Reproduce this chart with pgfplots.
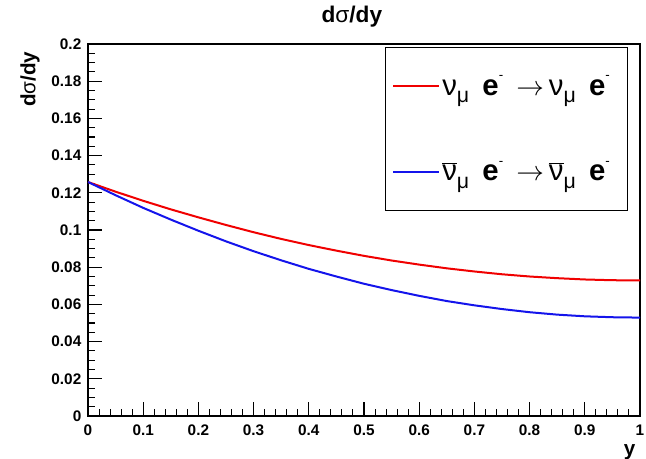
\documentclass[border=0pt]{standalone}
\usepackage{fontspec}
\setmainfont{Liberation Sans}
\usepackage{pgfplots}
\pgfplotsset{compat=1.18}
\definecolor{rootred}{RGB}{240,0,0}
\definecolor{rootblue}{RGB}{20,20,235}
\newcommand{\nuu}{{\mdseries ν}}
\newcommand{\nub}{$\overline{\hbox{\mdseries ν}}$}
\newcommand{\sub}[1]{\raisebox{-0.5ex}{\fontsize{16pt}{16pt}\selectfont\mdseries #1}}
\newcommand{\elec}{\textbf{e}\raisebox{1.0ex}{\fontsize{10pt}{10pt}\selectfont -}}
\newcommand{\gap}{\hspace{0.45em}}
\newcommand{\tail}{\hbox to 6pt{}}
\begin{document}
\begin{tikzpicture}
\useasboundingbox (0,0) rectangle (484.5pt,343.5pt);
\begin{axis}[
  at={(66pt,31.5pt)}, anchor=south west,
  scale only axis, width=414pt, height=279pt,
  xmin=0, xmax=1, ymin=0, ymax=0.2,
  xtick={0,0.1,0.2,0.3,0.4,0.5,0.6,0.7,0.8,0.9,1},
  ytick={0,0.02,0.04,0.06,0.08,0.1,0.12,0.14,0.16,0.18,0.2},
  xticklabels={0,0.1,0.2,0.3,0.4,0.5,0.6,0.7,0.8,0.9,1},
  yticklabels={0,0.02,0.04,0.06,0.08,0.1,0.12,0.14,0.16,0.18,0.2},
  minor x tick num=4, minor y tick num=3,
  xtick pos=left, ytick pos=left, tick align=inside,
  major tick length=10.5pt, minor tick length=5pt,
  tick style={black, line width=0.8pt},
  axis line style={black, line width=0.8pt},
  scaled y ticks=false,
  ticklabel style={font=\fontsize{11.5pt}{13pt}\selectfont\bfseries},
  yticklabel style={xshift=-1.5pt},
  xticklabel style={yshift=-3pt},
  title={\bfseries d{\mdseries σ}/dy},
  title style={at={(axis description cs:0.478,1)}, anchor=base, yshift=10.5pt, font=\fontsize{17pt}{20pt}\selectfont},
  ylabel={\bfseries d{\mdseries σ}/dy},
  ylabel style={at={(axis description cs:-0.105,0.992)}, anchor=east, font=\fontsize{15.5pt}{18pt}\selectfont},
  xlabel={\bfseries y},
  xlabel style={at={(axis description cs:1,-0.105)}, anchor=base east, font=\fontsize{15.5pt}{18pt}\selectfont},
  legend style={at={(axis description cs:0.978,0.992)}, anchor=north east,
    draw=black, line width=1pt, inner xsep=5pt, inner ysep=19pt, row sep=44pt,
    font=\fontsize{22pt}{25pt}\selectfont, cells={anchor=west}},
  legend image code/.code={\draw[#1, line width=1.5pt] (0pt,0pt) -- (34pt,0pt);},
]
\addplot[rootred, line width=1.5pt] coordinates {
(0,0.1258) (0.05,0.1206) (0.1,0.1157) (0.15,0.1111) (0.2,0.1068) (0.25,0.1027)
(0.3,0.0988) (0.35,0.0952) (0.4,0.0919) (0.45,0.0889) (0.5,0.0861) (0.55,0.0836)
(0.6,0.0814) (0.65,0.0794) (0.7,0.0777) (0.75,0.0762) (0.8,0.0750) (0.85,0.0741)
(0.9,0.0734) (0.95,0.0730) (1,0.0729)};
\addlegendentry{\nuu\sub{μ}\gap\elec\gap$\rightarrow$\,\nuu\sub{μ}\gap\elec\tail}
\addplot[rootblue, line width=1.5pt] coordinates {
(0,0.1258) (0.05,0.1187) (0.1,0.1119) (0.15,0.1056) (0.2,0.0996) (0.25,0.0939)
(0.3,0.0886) (0.35,0.0837) (0.4,0.0791) (0.45,0.0750) (0.5,0.0711) (0.55,0.0677)
(0.6,0.0646) (0.65,0.0618) (0.7,0.0595) (0.75,0.0575) (0.8,0.0558) (0.85,0.0545)
(0.9,0.0536) (0.95,0.0531) (1,0.0529)};
\addlegendentry{\nub\sub{μ}\gap\elec\gap$\rightarrow$\,\nub\sub{μ}\gap\elec\tail}
\end{axis}
\end{tikzpicture}
\end{document}
